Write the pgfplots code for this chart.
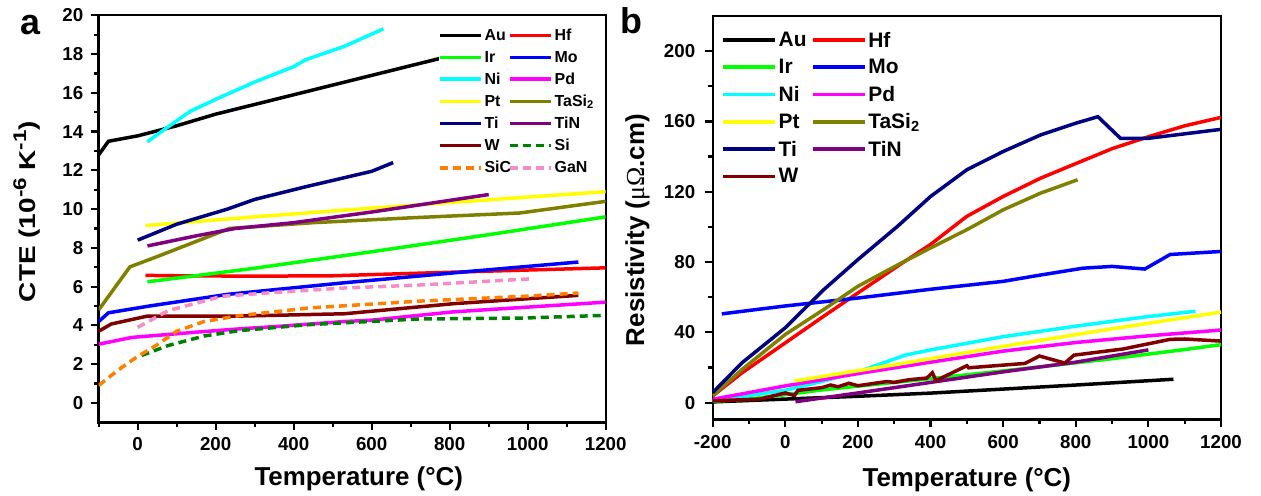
\documentclass[border=0pt]{standalone}
\usepackage{fontspec}
\setmainfont{Liberation Sans}
\newfontfamily\grkfont{Liberation Serif}
\usepackage{graphicx}
\usepackage{pgfplots}
\pgfplotsset{compat=1.18}
\definecolor{cNavy}{RGB}{0,0,128}
\definecolor{cOlive}{RGB}{128,128,0}
\definecolor{cPurple}{RGB}{128,0,128}
\definecolor{cMaroon}{RGB}{128,0,0}
\definecolor{cGreen}{RGB}{0,255,0}
\definecolor{cDkGreen}{RGB}{0,128,0}
\definecolor{cOrange}{RGB}{255,128,0}
\definecolor{cPink}{RGB}{245,140,200}
\definecolor{cYellow}{RGB}{255,255,0}
\definecolor{cCyan}{RGB}{0,255,255}
\definecolor{cMagenta}{RGB}{255,0,255}
\definecolor{cBlue}{RGB}{0,0,255}
\definecolor{cRed}{RGB}{255,0,0}
\newcommand\sups[1]{\raisebox{0.42em}{\fontsize{18.4}{18}\selectfont #1}}
\pgfplotsset{
  common/.style={
    scale only axis, anchor=south west,
    tick pos=left, tick align=outside,
    major tick length=8bp, minor tick length=5bp,
    axis line style={line width=2.4bp},
    every tick/.style={line width=2.2bp, black},
    /pgf/number format/assume math mode=true,
    /pgf/number format/1000 sep={},
    tick label style={font=\fontsize{18.8}{20}\selectfont\bfseries},
    label style={font=\fontsize{26}{30}\selectfont\bfseries},
    every axis plot post/.append style={line width=3.5bp},
    legend cell align=left,
  },
  dashes/.style={dash pattern=on 8bp off 5bp},
}
\begin{document}
\begin{tikzpicture}
\useasboundingbox (0,0) rectangle (1261bp,496bp);
\node[anchor=base west, font=\fontsize{36}{36}\selectfont\bfseries, inner sep=0pt] at (20bp,461bp) {a};
\node[anchor=base west, font=\fontsize{36}{36}\selectfont\bfseries, inner sep=0pt] at (620.5bp,462.7bp) {b};
% ---------------- Panel a ----------------
\begin{axis}[common,
  at={(98.7bp,73.7bp)}, width=507bp, height=407bp,
  xmin=-100, xmax=1200, ymin=-1, ymax=20,
  xtick={0,200,...,1200}, minor xtick={-100,100,...,1100},
  ytick={0,2,...,20}, minor ytick={1,3,...,19},
  xticklabel style={yshift=-4bp}, yticklabel style={xshift=-4bp},
  xlabel={Temperature (°C)},
  xlabel style={at={(axis description cs:0.513,0)}, anchor=base, yshift=-62.7bp},
  ylabel={\scalebox{1.22}[1]{CTE (10\sups{-6} K\sups{-1})}},
  ylabel style={at={(axis description cs:-0.1414,0.518)}, anchor=center, font=\fontsize{23}{28}\selectfont\bfseries},
  legend columns=2,
  legend image code/.code={\draw[#1, line width=3.5bp] (0bp,0bp) -- (41bp,0bp);},
  legend style={at={(0.670,0.9706)}, anchor=north west, draw=none, fill=white,
    inner sep=0pt, font=\fontsize{16}{16}\selectfont\bfseries, row sep=6.1bp,
    nodes={inner sep=1.5bp}, /tikz/every even column/.append style={column sep=-4bp}},
]
\addplot[black] coordinates {(-100,12.8) (-75,13.5) (0,13.78) (100,14.3) (200,14.9) (300,15.4) (400,15.9) (500,16.4) (600,16.9) (700,17.4) (800,17.9) (900,18.4) (1000,18.9)};
\addlegendentry{Au}
\addplot[cRed] coordinates {(20,6.58) (100,6.56) (300,6.54) (500,6.56) (700,6.68) (900,6.8) (1200,6.97)};
\addlegendentry{Hf}
\addplot[cGreen] coordinates {(25,6.25) (300,6.95) (600,7.8) (900,8.68) (1200,9.6)};
\addlegendentry{Ir}
\addplot[cBlue] coordinates {(-100,4.2) (-75,4.65) (30,5.0) (230,5.6) (530,6.2) (860,6.8) (1130,7.27)};
\addlegendentry{Mo}
\addplot[cCyan] coordinates {(25,13.48) (75,14.2) (135,15.05) (215,15.8) (305,16.6) (400,17.35) (430,17.7) (530,18.4) (630,19.3)};
\addlegendentry{Ni}
\addplot[cMagenta] coordinates {(-100,3.03) (-15,3.38) (150,3.65) (260,3.82) (360,3.95) (530,4.2) (600,4.27) (810,4.7) (1200,5.2)};
\addlegendentry{Pd}
\addplot[cYellow] coordinates {(20,9.15) (300,9.6) (600,10.05) (900,10.48) (1200,10.9)};
\addlegendentry{Pt}
\addplot[cOlive] coordinates {(-100,4.8) (-20,7.02) (50,7.55) (235,9.0) (450,9.3) (700,9.55) (980,9.8) (1200,10.4)};
\addlegendentry{TaSi\textsubscript{2}}
\addplot[cNavy] coordinates {(0,8.4) (100,9.22) (230,10.0) (300,10.5) (430,11.15) (600,11.95) (655,12.4)};
\addlegendentry{Ti}
\addplot[cPurple] coordinates {(25,8.1) (150,8.62) (250,9.0) (400,9.3) (600,9.85) (750,10.3) (900,10.75)};
\addlegendentry{TiN}
\addplot[cMaroon] coordinates {(-100,3.7) (-68,4.07) (25,4.48) (260,4.48) (530,4.6) (810,5.12) (1130,5.55)};
\addlegendentry{W}
\addplot[cDkGreen, dashes] coordinates {(10,2.45) (78,2.96) (170,3.45) (260,3.73) (440,4.04) (720,4.33) (990,4.38) (1200,4.52)};
\addlegendentry{Si}
\addplot[cOrange, dashes] coordinates {(-100,0.9) (-50,1.7) (0,2.4) (50,3.0) (100,3.7) (170,4.2) (260,4.5) (440,4.9) (720,5.25) (990,5.5) (1130,5.67)};
\addlegendentry{SiC}
\addplot[cPink, dashes] coordinates {(0,3.9) (78,4.76) (215,5.5) (350,5.7) (530,5.93) (720,6.08) (1005,6.4)};
\addlegendentry{GaN}
\end{axis}
% ---------------- Panel b ----------------
\begin{axis}[common,
  at={(712.7bp,76.7bp)}, width=508.3bp, height=403.3bp,
  xmin=-200, xmax=1200, ymin=-9.5, ymax=220,
  xtick={-200,0,...,1200}, minor xtick={-100,100,...,1100},
  ytick={0,40,...,200}, minor ytick={20,60,...,180},
  xticklabel style={yshift=-5bp}, yticklabel style={xshift=-6bp},
  xlabel={Temperature (°C)},
  xlabel style={at={(axis description cs:0.5,0)}, anchor=base, yshift=-67.4bp},
  ylabel={Resistivity ({\mdseries\grkfont μΩ}.cm)},
  ylabel style={at={(axis description cs:-0.148,0.469)}, anchor=center},
  legend columns=2,
  legend image code/.code={\draw[#1, line width=3.8bp] (0bp,0bp) -- (52bp,0bp);},
  legend style={at={(0.0167,0.9646)}, anchor=north west, draw=none, fill=white,
    inner sep=0pt, font=\fontsize{21}{21}\selectfont\bfseries, row sep=7.8bp,
    nodes={inner sep=1.5bp}, /tikz/every even column/.append style={column sep=3bp}},
]
\addplot[black] coordinates {(-200,0.4) (0,2) (200,3.6) (400,5.4) (600,7.7) (800,10) (1069,13.3)};
\addlegendentry{Au}
\addplot[cRed] coordinates {(-200,3.8) (-119,17) (0,34) (106,49.2) (200,62.4) (309,77.6) (400,90) (500,106) (600,117.3) (703,127.7) (800,136) (900,144.5) (1000,151.3) (1100,157.5) (1200,162.3)};
\addlegendentry{Hf}
\addplot[cGreen] coordinates {(-200,0.8) (-100,2) (0,4.5) (100,7.2) (300,11.5) (500,15.8) (700,20.3) (900,25) (1100,30.2) (1200,33)};
\addlegendentry{Ir}
\addplot[cBlue] coordinates {(-175,50.5) (0,55) (200,59.5) (400,64.5) (600,69) (700,72.5) (820,76.5) (900,77.5) (990,76) (1060,84.3) (1200,86)};
\addlegendentry{Mo}
\addplot[cCyan] coordinates {(-200,1) (0,7) (100,12) (200,17.5) (330,27) (400,30) (600,37.5) (800,43.5) (1000,49) (1130,52)};
\addlegendentry{Ni}
\addplot[cMagenta] coordinates {(-200,1.9) (0,9.5) (200,16.5) (400,23) (600,29.3) (800,34.2) (1000,38) (1200,41.3)};
\addlegendentry{Pd}
\addplot[cYellow] coordinates {(25,12.3) (300,21.5) (600,32) (900,42) (1200,51.5)};
\addlegendentry{Pt}
\addplot[cOlive] coordinates {(-200,3.8) (-119,18.9) (0,38.8) (106,53) (200,66.2) (320,79.5) (400,88) (500,98.4) (600,109.7) (703,119.2) (805,126.8)};
\addlegendentry{TaSi\textsubscript{2}}
\addplot[cNavy] coordinates {(-200,5.7) (-119,22.7) (0,42.6) (106,64.3) (200,81.4) (309,100.3) (400,117.3) (500,132.5) (600,142.9) (703,152.3) (800,159) (861,162.7) (923,150.4) (1000,150.4) (1200,155.5)};
\addlegendentry{Ti}
\addplot[cPurple] coordinates {(28,0.5) (200,5.5) (400,11.5) (600,17.5) (800,23) (1000,30)};
\addlegendentry{TiN}
\addplot[cMaroon] coordinates {(-200,1) (-70,2) (0,5.5) (25,4) (35,7) (100,8.5) (125,10) (145,9) (175,11) (200,9.6) (280,12) (300,11.5) (340,13) (390,14) (405,17) (415,12.5) (500,21) (505,19.8) (660,22.3) (700,26.5) (770,22.5) (795,27) (930,30.5) (1060,36) (1100,36.2) (1200,35)};
\addlegendentry{W}
\end{axis}
\end{tikzpicture}
\end{document}
